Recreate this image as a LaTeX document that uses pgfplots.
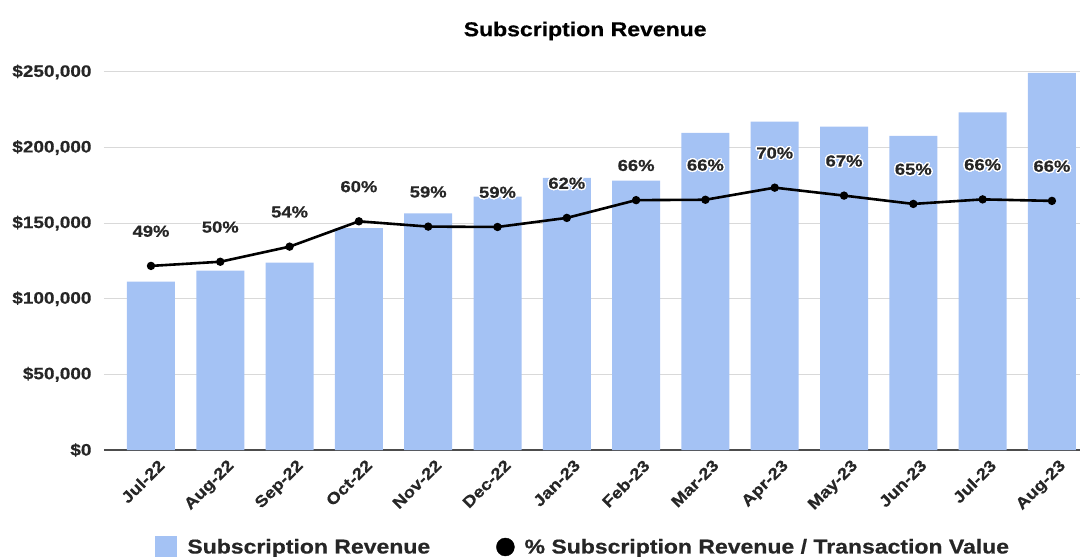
\documentclass[border=0pt]{standalone}
\usepackage{fontspec}
\setmainfont{Liberation Sans}[FakeStretch=1.15, BoldFeatures={FakeBold=0.6}]
\usepackage{pgfplots}
\pgfplotsset{compat=1.18}
\usepackage[copies]{contour}
\contourlength{1.3bp}
\contournumber{24}
\definecolor{barblue}{HTML}{A4C2F4}
\definecolor{gridgray}{HTML}{D9D9D9}
\begin{document}
\begin{tikzpicture}
\useasboundingbox (-104bp,-107bp) rectangle (980bp,450bp);
\begin{axis}[
  scale only axis, width=976bp, height=378bp,
  at={(0,0)}, anchor=south west,
  xmin=-0.678, xmax=13.405, ymin=0, ymax=250000,
  scaled y ticks=false,
  axis x line*=bottom, axis y line*=left,
  y axis line style={draw=none},
  x axis line style={-, draw=black!70, line width=1.3bp},
  major tick length=0pt,
  ymajorgrids, grid style={draw=gridgray, line width=1bp},
  xtick={0,...,13},
  xticklabels={Jul-22,Aug-22,Sep-22,Oct-22,Nov-22,Dec-22,Jan-23,Feb-23,Mar-23,Apr-23,May-23,Jun-23,Jul-23,Aug-23},
  ytick={0,50000,100000,150000,200000,250000},
  yticklabels={{\$0},{\$50,000},{\$100,000},{\$150,000},{\$200,000},{\$250,000}},
  x tick label style={rotate=45, anchor=north east, xshift=2bp, yshift=-7bp, font=\bfseries\fontsize{16bp}{18bp}\selectfont, text=black!85},
  y tick label style={font=\bfseries\fontsize{16.5bp}{18bp}\selectfont, text=black!85, xshift=-9bp},
  title={Subscription Revenue},
  title style={at={(axis description cs:0.493,1)}, anchor=center, yshift=35bp, font=\bfseries\fontsize{20bp}{22bp}\selectfont},
  legend columns=2,
  legend style={at={(axis description cs:0.491,-0.2566)}, anchor=center, draw=none, fill=none,
    font=\bfseries\fontsize{20bp}{22bp}\selectfont, text=black!85,
    /tikz/every odd column/.append style={column sep=8bp},
    /tikz/every even column/.append style={column sep=64bp}},
]
\addplot[ybar, bar width=48bp, fill=barblue, draw=none,
  legend image code/.code={\fill[barblue] (0bp,-11bp) rectangle (22bp,11bp);}]
  coordinates {
  (0,111300) (1,118600) (2,123900) (3,146800) (4,156500) (5,167500) (6,179900)
  (7,178100) (8,209800) (9,217100) (10,213800) (11,207700) (12,223300) (13,249500)
  };
\addlegendentry{Subscription Revenue}
\addlegendimage{legend image code/.code={\fill[black] (11bp,0bp) circle (9bp);}}
\addlegendentry{\% Subscription Revenue / Transaction Value}
\end{axis}
\begin{axis}[
  scale only axis, width=976bp, height=378bp,
  at={(0,0)}, anchor=south west,
  xmin=-0.678, xmax=13.405, ymin=0, ymax=100,
  hide axis, clip=false,
]
\addplot[black, line width=2.6bp, mark=*, mark size=2.8bp,
  point meta=explicit symbolic,
  nodes near coords={\contour{white}{\pgfplotspointmeta\%}},
  nodes near coords style={anchor=center, yshift=34bp, text=black!85,
    font=\bfseries\fontsize{16bp}{18bp}\selectfont}]
  coordinates {
  (0,48.7)[49] (1,49.8)[50] (2,53.8)[54] (3,60.5)[60] (4,59.1)[59] (5,59.0)[59]
  (6,61.4)[62] (7,66.1)[66] (8,66.2)[66] (9,69.4)[70] (10,67.3)[67] (11,65.1)[65]
  (12,66.3)[66] (13,65.9)[66]
  };
\end{axis}
\end{tikzpicture}
\end{document}
